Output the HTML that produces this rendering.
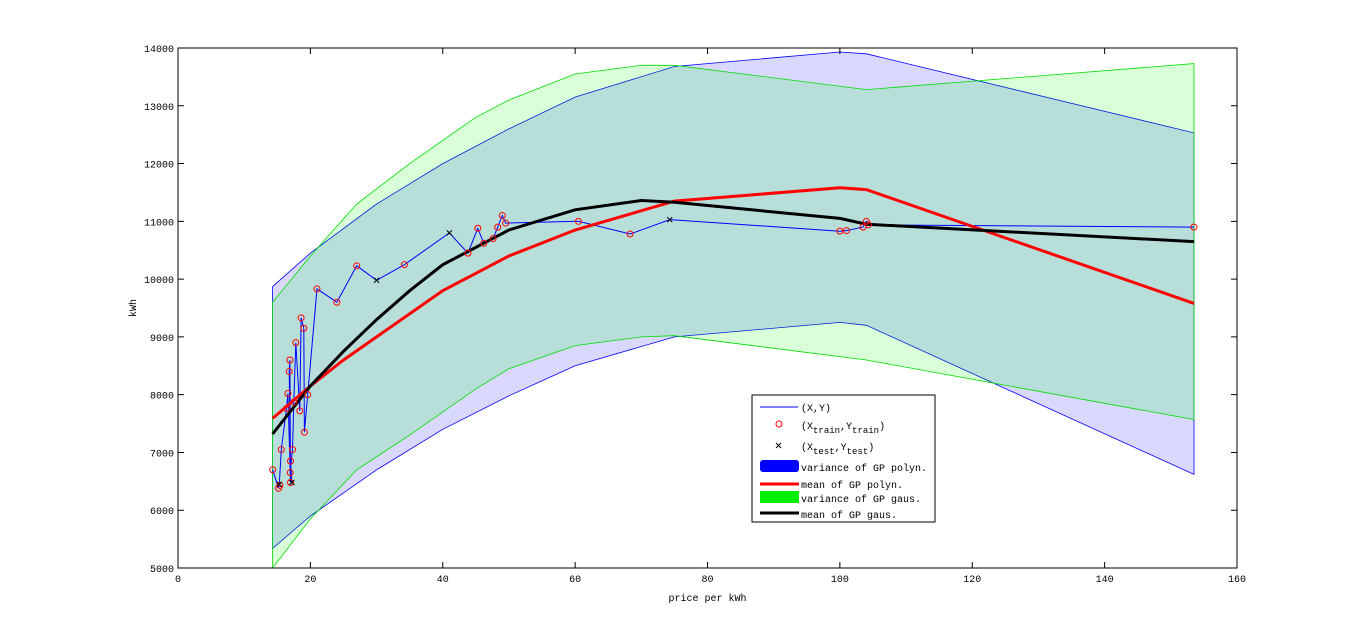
<!DOCTYPE html>
<html><head><meta charset="utf-8"><style>
body{margin:0;background:#fff;width:1366px;height:638px;overflow:hidden}
text{font-family:"Liberation Mono","DejaVu Sans Mono",monospace;font-size:10px;fill:#000}
</style></head><body>
<svg id="chart" width="1366" height="638" xmlns="http://www.w3.org/2000/svg"></svg>
<script>
const xTicks=[0,20,40,60,80,100,120,140,160];
const yTicks=[5000,6000,7000,8000,9000,10000,11000,12000,13000,14000];
const bandX=[14.3,20,30,40,50,60,75,100,104,153.5];
const polyUpper=[9870,10450,11300,12000,12600,13150,13680,13930,13900,12530];
const polyLower=[5340,5900,6700,7400,7980,8500,9000,9250,9200,6620];
const polyMeanX=[14.3,20,25,30,40,50,60,75,100,104,153.5];
const polyMean=[7590,8150,8600,9000,9800,10400,10850,11350,11580,11550,9580];
const gausX=[14.3,20,27,35,45,50,60,70,75,104,153.5];
const gausUpper=[9600,10400,11300,12000,12800,13100,13550,13700,13700,13280,13730];
const gausLower=[5000,5850,6700,7300,8100,8450,8850,9000,9020,8600,7570];
const gausMeanX=[14.3,20,25,30,35,40,50,60,70,75,100,104,153.5];
const gausMean=[7320,8150,8750,9300,9800,10250,10850,11200,11360,11330,11050,10950,10650];
const trainX=[14.3,15.2,15.4,15.6,16.4,16.6,16.8,16.9,16.95,17.0,17.0,17.3,17.5,17.8,18.4,18.6,19.0,19.1,19.6,21.0,24.0,27.0,34.2,43.8,45.3,46.2,47.6,48.3,49.0,49.5,60.5,68.3,100,101,103.5,104,104.3,153.5];
const trainY=[6700,6380,6430,7050,7760,8020,8400,8600,6650,6480,6850,7050,7870,8900,7720,9330,9150,7350,8000,9830,9600,10230,10250,10450,10880,10620,10700,10900,11100,10970,11000,10780,10830,10840,10900,11000,10940,10900];
const testX=[15.3,17.2,30,41,74.3];
const testY=[6450,6480,9980,10800,11030];
const lineX=[14.3,15.2,15.3,15.6,16.4,16.6,17.0,16.9,16.8,17.0,17.2,16.95,17.3,17.5,17.8,18.4,18.6,19.0,19.1,19.6,21.0,24.0,27.0,30,34.2,41,43.8,45.3,46.2,47.6,48.3,49.0,49.5,60.5,68.3,74.3,100,101,103.5,104,104.3,153.5];
const lineY=[6700,6380,6450,7050,7760,8020,6480,8600,8400,6850,6480,6650,7050,7870,8900,7720,9330,9150,7350,8000,9830,9600,10230,9980,10250,10800,10450,10880,10620,10700,10900,11100,10970,11000,10780,11030,10830,10840,10900,11000,10940,10900];

const L=178,R=1237,T=48,B=568;
const sx=v=>L+(v-0)/(160-0)*(R-L);
const sy=v=>B-(v-5000)/(14000-5000)*(B-T);
const svg=document.getElementById('chart');
const NS='http://www.w3.org/2000/svg';
function mk(tag,attrs,parent){const e=document.createElementNS(NS,tag);for(const k in attrs)e.setAttribute(k,attrs[k]);(parent||svg).appendChild(e);return e;}
function pts(xs,ys){return xs.map((x,i)=>sx(x).toFixed(1)+','+sy(ys[i]).toFixed(1)).join(' ');}
function band(xs,up,lo){return pts(xs,up)+' '+pts(xs.slice().reverse(),lo.slice().reverse());}

let e;
e=mk('rect',{x:L,y:T,width:R-L,height:B-T,fill:'#fff'});


e=mk('polygon',{points:band(bandX,polyUpper,polyLower),fill:'#0000ff','fill-opacity':0.15,stroke:'#0000ff','stroke-width':0.8});


e=mk('polygon',{points:band(gausX,gausUpper,gausLower),fill:'#00ff00','fill-opacity':0.15,stroke:'#00dd00','stroke-width':0.8});


e=mk('polyline',{points:pts(lineX,lineY),fill:'none',stroke:'#0000ff','stroke-width':1});


e=mk('polyline',{points:pts(polyMeanX,polyMean),fill:'none',stroke:'#ff0000','stroke-width':3});


e=mk('polyline',{points:pts(gausMeanX,gausMean),fill:'none',stroke:'#000','stroke-width':3});


trainX.forEach((x,i)=>{const c=mk('circle',{cx:sx(x),cy:sy(trainY[i]),r:3,fill:'none',stroke:'#ff0000','stroke-width':1});

});
testX.forEach((x,i)=>{const X=sx(x),Y=sy(testY[i]);const p=mk('path',{d:`M${X-2.5},${Y-2.5}L${X+2.5},${Y+2.5}M${X-2.5},${Y+2.5}L${X+2.5},${Y-2.5}`,stroke:'#000','stroke-width':1});

});
e=mk('rect',{x:L,y:T,width:R-L,height:B-T,fill:'none',stroke:'#000','stroke-width':1});


xTicks.forEach(v=>{const X=sx(v);mk('path',{d:`M${X},${B}v-6M${X},${T}v6`,stroke:'#000'});
const t=mk('text',{x:X,y:B+14,'text-anchor':'middle'});t.textContent=v;

});
yTicks.forEach(v=>{const Y=sy(v);mk('path',{d:`M${L},${Y}h6M${R},${Y}h-6`,stroke:'#000'});
const t=mk('text',{x:L-4,y:Y+4,'text-anchor':'end'});t.textContent=v;

});
e=mk('text',{x:(L+R)/2,y:601,'text-anchor':'middle'});e.textContent='price per kWh';


e=mk('text',{x:136,y:(T+B)/2,'text-anchor':'middle',transform:`rotate(-90 136 ${(T+B)/2})`});e.textContent='kWh';



const g=mk('g',{});


mk('rect',{x:752,y:395,width:183,height:127,fill:'#fff',stroke:'#000'},g);
mk('line',{x1:760,y1:407,x2:798,y2:407,stroke:'#0000ff'},g);
let t=mk('text',{x:801,y:411},g);t.textContent='(X,Y)';
mk('circle',{cx:779,cy:424,r:3,fill:'none',stroke:'#f00'},g);
t=mk('text',{x:801,y:429},g);t.innerHTML='(X<tspan dy="4" font-size="9">train</tspan><tspan dy="-4">,Y</tspan><tspan dy="4" font-size="9">train</tspan><tspan dy="-4">)</tspan>';
mk('path',{d:'M776,443l5,5M776,448l5,-5',stroke:'#000'},g);
t=mk('text',{x:801,y:450},g);t.innerHTML='(X<tspan dy="4" font-size="9">test</tspan><tspan dy="-4">,Y</tspan><tspan dy="4" font-size="9">test</tspan><tspan dy="-4">)</tspan>';
mk('rect',{x:760,y:460,width:39,height:12,rx:3,fill:'#0000ff'},g);
t=mk('text',{x:801,y:471},g);t.textContent='variance of GP polyn.';
mk('line',{x1:760,y1:484,x2:799,y2:484,stroke:'#f00','stroke-width':3},g);
t=mk('text',{x:801,y:488},g);t.textContent='mean of GP polyn.';
mk('rect',{x:760,y:491,width:39,height:12,fill:'#00ee00'},g);
t=mk('text',{x:801,y:502},g);t.textContent='variance of GP gaus.';
mk('line',{x1:760,y1:513,x2:799,y2:513,stroke:'#000','stroke-width':3},g);
t=mk('text',{x:801,y:518},g);t.textContent='mean of GP gaus.';
</script>
</body></html>
